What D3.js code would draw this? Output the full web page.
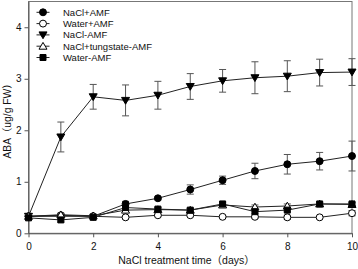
<!DOCTYPE html>
<html>
<head>
<meta charset="utf-8">
<script src="https://cdn.jsdelivr.net/npm/d3@7"></script>
<style>
  body { margin: 0; background: #fff; }
  svg text { font-family: "Liberation Sans", Arial, "Noto Sans CJK SC", sans-serif; }
</style>
</head>
<body>
<div id="chart"></div>
<script>
// Data
var days = [0, 1, 2, 3, 4, 5, 6, 7, 8, 9, 10];
var seriesNames = ["NaCl+AMF", "Water+AMF", "NaCl-AMF", "NaCl+tungstate-AMF", "Water-AMF"];
var naclAmf      = [0.33, 0.35, 0.33, 0.57, 0.68, 0.85, 1.03, 1.21, 1.34, 1.40, 1.50];
var naclAmfErr   = [0.03, 0.03, 0.03, 0.05, 0.03, 0.09, 0.08, 0.15, 0.19, 0.17, 0.29];
var waterAmf     = [0.33, 0.33, 0.33, 0.31, 0.35, 0.35, 0.32, 0.32, 0.31, 0.31, 0.39];
var waterAmfErr  = [0.02, 0.02, 0.02, 0.03, 0.02, 0.02, 0.02, 0.03, 0.04, 0.02, 0.05];
var naclNoAmf    = [0.33, 1.87, 2.65, 2.58, 2.68, 2.85, 2.96, 3.02, 3.05, 3.12, 3.13];
var naclNoAmfErr = [0.03, 0.29, 0.24, 0.30, 0.27, 0.25, 0.22, 0.31, 0.30, 0.26, 0.26];
var tungNoAmf    = [0.33, 0.36, 0.34, 0.45, 0.46, 0.45, 0.55, 0.51, 0.53, 0.57, 0.56];
var tungNoAmfErr = [0.03, 0.03, 0.03, 0.04, 0.03, 0.03, 0.04, 0.04, 0.04, 0.03, 0.03];
var waterNoAmf   = [0.30, 0.26, 0.31, 0.50, 0.47, 0.45, 0.57, 0.42, 0.45, 0.57, 0.57];
var waterNoAmfErr= [0.03, 0.04, 0.03, 0.05, 0.03, 0.03, 0.04, 0.04, 0.03, 0.03, 0.03];
var xTicks = [0, 2, 4, 6, 8, 10];
var yTicks = [0, 1, 2, 3, 4];

var margin = { top: 1.5, right: 6, bottom: 35.7, left: 28.5 },
    width = 358 - margin.left - margin.right,
    height = 269 - margin.top - margin.bottom;

var svg = d3.select("#chart")
  .append("svg")
    .attr("width", 358)
    .attr("height", 269)
  .append("g")
    .attr("transform", "translate(" + margin.left + "," + margin.top + ")");

var x = d3.scaleLinear().domain([0, 10]).range([0, width]);
var y = d3.scaleLinear().domain([0, 4.5]).range([height, 0]);

// frame
svg.append("rect")
  .attr("x", 0).attr("y", 0)
  .attr("width", width).attr("height", height)
  .attr("fill", "none")
  .attr("stroke", "#777")
  .attr("stroke-width", 1);

var xAxis = svg.append("g")
  .attr("transform", "translate(0," + height + ")")
  .call(d3.axisBottom(x).tickValues(xTicks).tickFormat(d3.format("d")).tickSize(4).tickSizeOuter(0));
var yAxis = svg.append("g")
  .call(d3.axisLeft(y).tickValues(yTicks).tickFormat(d3.format("d")).tickSize(4).tickSizeOuter(0));
[xAxis, yAxis].forEach(function (a) {
  a.select(".domain").attr("stroke", "#555");
  a.selectAll(".tick line").attr("stroke", "#555");
  a.selectAll(".tick text").attr("font-size", 10).attr("fill", "#111")
    .style("font-family", "Liberation Sans, Arial, sans-serif");
});
xAxis.selectAll(".tick text").attr("dy", "0.95em");

// axis titles
svg.append("text")
  .attr("text-anchor", "middle")
  .attr("x", 158)
  .attr("y", height + 30.5)
  .attr("font-size", 10.5)
  .attr("fill", "#111")
  .text("NaCl treatment time（days）");

svg.append("text")
  .attr("text-anchor", "middle")
  .attr("transform", "rotate(-90)")
  .attr("x", -117)
  .attr("y", -18)
  .attr("font-size", 10.3)
  .attr("fill", "#111")
  .text("ABA（ug/g FW）");

var series = [
  { name: seriesNames[0], vals: naclAmf, err: naclAmfErr, shape: "circle", fill: "#000" },
  { name: seriesNames[1], vals: waterAmf, err: waterAmfErr, shape: "circle", fill: "#fff" },
  { name: seriesNames[2], vals: naclNoAmf, err: naclNoAmfErr, shape: "down", fill: "#000" },
  { name: seriesNames[3], vals: tungNoAmf, err: tungNoAmfErr, shape: "up", fill: "#fff" },
  { name: seriesNames[4], vals: waterNoAmf, err: waterNoAmfErr, shape: "square", fill: "#000" }
];

function markerPath(shape) {
  if (shape === "circle") return d3.symbol().type(d3.symbolCircle).size(38)();
  if (shape === "square") return d3.symbol().type(d3.symbolSquare).size(36)();
  var s = 4;
  if (shape === "down") return "M" + (-s) + "," + (-s * 0.75) + "L" + s + "," + (-s * 0.75) + "L0," + (s * 0.95) + "Z";
  return "M" + (-s) + "," + (s * 0.75) + "L" + s + "," + (s * 0.75) + "L0," + (-s * 0.95) + "Z";
}

var line = d3.line()
  .x(function (d) { return x(d.day); })
  .y(function (d) { return y(d.v); });

series.forEach(function (s) {
  var pts = days.map(function (d, i) { return { day: d, v: s.vals[i], e: s.err[i] }; });
  var g = svg.append("g");

  // error bars
  var eb = g.selectAll(".eb").data(pts).enter().append("g").attr("stroke", "#555").attr("stroke-width", 1);
  eb.append("line")
    .attr("x1", d => x(d.day)).attr("x2", d => x(d.day))
    .attr("y1", d => y(d.v + d.e)).attr("y2", d => y(d.v - d.e));
  eb.append("line")
    .attr("x1", d => x(d.day) - 3.5).attr("x2", d => x(d.day) + 3.5)
    .attr("y1", d => y(d.v + d.e)).attr("y2", d => y(d.v + d.e));
  eb.append("line")
    .attr("x1", d => x(d.day) - 3.5).attr("x2", d => x(d.day) + 3.5)
    .attr("y1", d => y(d.v - d.e)).attr("y2", d => y(d.v - d.e));

  g.append("path")
    .datum(pts)
    .attr("d", line)
    .attr("fill", "none")
    .attr("stroke", "#222")
    .attr("stroke-width", 1);

  g.selectAll(".mk").data(pts).enter().append("path")
    .attr("d", markerPath(s.shape))
    .attr("transform", d => "translate(" + x(d.day) + "," + y(d.v) + ")")
    .attr("fill", s.fill)
    .attr("stroke", "#000")
    .attr("stroke-width", 1);
});

// legend
var legend = svg.selectAll(".lg")
  .data(series)
  .enter().append("g")
    .attr("transform", (d, i) => "translate(0," + (10.8 + i * 11.3) + ")");
legend.append("line")
  .attr("x1", 8).attr("x2", 21).attr("y1", 0).attr("y2", 0)
  .attr("stroke", "#222").attr("stroke-width", 1);
legend.append("path")
  .attr("d", d => markerPath(d.shape))
  .attr("transform", "translate(14.5,0)")
  .attr("fill", d => d.fill)
  .attr("stroke", "#000");
legend.append("text")
  .attr("x", 34.5)
  .attr("y", 0)
  .attr("dy", "0.35em")
  .attr("font-size", 9.5)
  .attr("fill", "#111")
  .text(d => d.name);
</script>
</body>
</html>
